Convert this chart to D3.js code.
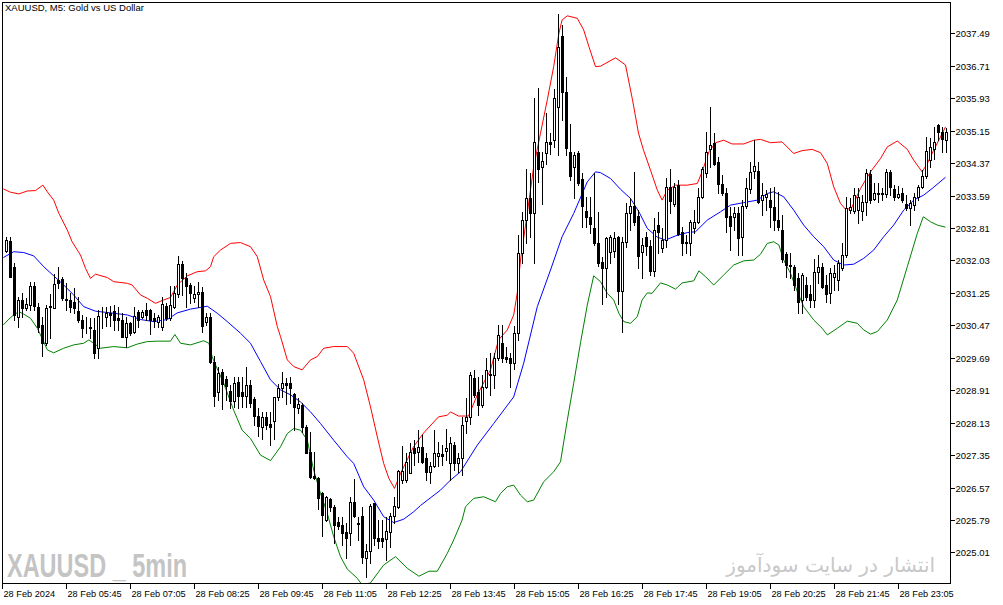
<!DOCTYPE html>
<html><head><meta charset="utf-8">
<script src="https://cdn.jsdelivr.net/npm/d3@7/dist/d3.min.js"></script>
<style>
html,body{margin:0;padding:0;background:#fff;}
svg{display:block;}
</style></head>
<body>
<svg id="chart" width="1003" height="605"></svg>
<script>
const opens = [2032.26,2032.50,2031.88,2030.68,2031.08,2030.89,2030.96,2031.42,2030.90,2030.48,2030.04,2030.91,2030.89,2031.56,2031.58,2031.10,2031.09,2031.02,2030.82,2030.61,2030.44,2030.43,2030.37,2029.92,2030.68,2030.66,2030.77,2030.82,2030.65,2030.60,2030.20,2030.52,2030.32,2030.80,2030.66,2030.84,2030.84,2030.65,2030.56,2030.44,2030.93,2030.65,2030.90,2031.22,2031.94,2031.61,2031.44,2031.13,2031.22,2031.26,2030.56,2030.66,2029.60,2028.87,2029.36,2029.18,2028.89,2028.66,2029.10,2028.86,2028.78,2029.04,2028.70,2028.30,2028.03,2028.26,2028.10,2028.16,2028.74,2028.96,2029.08,2029.08,2028.82,2028.48,2028.56,2028.03,2027.43,2026.85,2026.79,2026.43,2025.79,2026.29,2026.10,2025.75,2025.67,2025.51,2025.47,2026.22,2025.73,2025.89,2024.88,2025.04,2026.19,2025.37,2025.37,2025.33,2025.51,2025.89,2026.11,2026.75,2026.75,2026.93,2027.51,2027.43,2027.55,2027.27,2026.95,2027.09,2027.33,2027.38,2027.45,2027.17,2027.59,2027.15,2027.27,2028.18,2028.27,2029.20,2028.87,2028.55,2028.99,2029.30,2029.28,2029.68,2030.05,2029.70,2029.68,2029.57,2030.28,2032.20,2033.00,2033.52,2033.16,2034.64,2034.27,2034.62,2034.87,2034.92,2035.73,2037.42,2036.09,2034.63,2034.27,2034.62,2033.99,2033.23,2033.08,2032.82,2032.44,2032.00,2031.84,2032.24,2032.26,2032.60,2031.30,2032.48,2033.18,2033.35,2033.10,2032.24,2032.59,2032.38,2031.78,2032.88,2032.32,2032.52,2033.79,2033.39,2033.84,2032.71,2032.48,2032.44,2032.80,2032.96,2033.56,2034.14,2034.72,2034.86,2034.40,2033.87,2033.64,2033.10,2033.07,2033.16,2032.59,2033.34,2033.74,2034.19,2034.19,2033.48,2033.55,2033.48,2033.32,2033.00,2032.76,2032.18,2031.92,2031.88,2031.60,2031.08,2031.44,2031.22,2031.09,2031.76,2031.88,2031.44,2031.24,2031.64,2031.56,2031.84,2032.16,2033.24,2033.22,2033.24,2033.22,2033.44,2034.11,2033.51,2033.62,2033.64,2033.62,2034.16,2033.74,2033.56,2033.64,2033.39,2033.28,2033.36,2033.56,2033.80,2034.06,2034.44,2034.72,2035.28,2035.12,2034.92];
const highs = [2032.60,2032.60,2031.97,2031.16,2031.25,2031.13,2031.52,2031.50,2031.01,2030.68,2030.96,2031.22,2031.70,2031.88,2031.64,2031.48,2031.24,2031.37,2031.16,2030.72,2030.68,2030.64,2030.64,2030.84,2030.92,2030.90,2030.94,2030.96,2030.92,2030.76,2030.68,2030.56,2030.90,2030.84,2030.85,2031.00,2030.86,2030.76,2030.72,2031.16,2031.00,2031.42,2031.42,2032.14,2032.02,2031.72,2031.48,2031.42,2031.52,2031.40,2030.76,2030.76,2029.73,2029.46,2029.41,2029.26,2029.04,2029.23,2029.23,2029.23,2029.46,2029.16,2028.75,2028.48,2028.39,2028.39,2028.39,2028.75,2029.06,2029.34,2029.20,2029.23,2028.84,2028.72,2028.60,2028.07,2027.91,2027.43,2026.83,2026.47,2026.37,2026.31,2026.15,2025.87,2025.87,2025.71,2026.35,2026.77,2025.87,2026.11,2025.21,2026.17,2026.21,2025.79,2025.79,2025.87,2025.97,2026.34,2026.99,2027.57,2027.39,2027.63,2027.71,2027.95,2027.83,2027.39,2027.19,2027.95,2027.67,2027.59,2027.99,2027.79,2027.67,2027.39,2028.27,2028.72,2029.36,2029.40,2029.23,2029.28,2029.68,2029.80,2029.80,2030.48,2030.48,2029.96,2029.80,2030.45,2032.64,2033.20,2034.24,2034.12,2035.93,2036.17,2034.64,2035.57,2035.09,2036.14,2037.95,2037.69,2036.43,2035.31,2034.64,2034.67,2034.12,2033.56,2033.56,2034.12,2033.20,2032.12,2032.60,2032.64,2032.72,2032.62,2032.60,2033.40,2033.52,2034.16,2033.24,2032.56,2032.72,2032.52,2033.04,2033.20,2032.80,2034.00,2034.23,2033.88,2033.96,2032.84,2032.64,2033.00,2033.24,2033.76,2034.28,2035.12,2035.73,2035.09,2034.52,2034.08,2033.76,2033.31,2033.32,2033.31,2033.48,2034.00,2034.40,2034.92,2034.40,2033.90,2033.72,2033.76,2033.79,2033.68,2033.12,2032.24,2032.20,2031.92,2031.72,2031.73,2031.64,2031.44,2032.06,2032.16,2031.96,2031.68,2031.84,2031.92,2032.04,2032.44,2033.56,2033.54,2033.76,2033.76,2033.60,2034.24,2034.20,2033.88,2033.90,2033.76,2034.24,2034.20,2033.84,2033.82,2033.76,2033.60,2033.48,2033.64,2033.84,2034.20,2034.99,2034.97,2035.24,2035.30,2035.24,2035.21];
const lows = [2032.23,2031.63,2030.60,2030.44,2030.68,2030.84,2030.84,2030.84,2030.32,2029.73,2030.00,2030.17,2030.88,2031.36,2031.08,2030.84,2030.80,2030.77,2030.56,2030.18,2030.29,2030.17,2029.68,2029.68,2030.40,2030.45,2030.45,2030.36,2030.37,2030.18,2029.96,2030.24,2030.29,2030.44,2030.64,2030.61,2030.26,2030.44,2030.44,2030.36,2030.61,2030.60,2030.88,2031.16,2031.20,2030.90,2031.00,2031.04,2030.90,2030.32,2030.48,2029.56,2028.54,2028.67,2028.46,2028.67,2028.48,2028.51,2028.48,2028.51,2028.51,2028.51,2028.07,2027.81,2027.75,2027.97,2027.59,2027.75,2028.67,2028.75,2028.57,2028.60,2027.95,2028.36,2027.91,2027.39,2026.79,2026.77,2026.05,2025.41,2025.77,2026.01,2025.23,2025.57,2025.19,2024.87,2025.19,2025.87,2025.31,2024.75,2024.43,2024.76,2025.19,2025.11,2025.15,2024.83,2025.15,2025.71,2026.09,2026.67,2026.71,2026.91,2027.11,2027.19,2027.15,2026.75,2026.67,2027.07,2027.09,2027.11,2027.23,2026.75,2026.99,2026.95,2026.87,2027.89,2028.11,2028.75,2028.31,2028.51,2028.96,2028.80,2028.96,2029.64,2029.60,2029.60,2028.99,2029.41,2030.12,2031.96,2032.44,2032.60,2031.97,2033.92,2033.38,2034.36,2034.59,2034.76,2034.56,2035.40,2034.56,2033.96,2033.52,2033.84,2032.84,2032.84,2032.68,2032.40,2031.90,2030.99,2031.16,2031.96,2032.12,2030.99,2030.32,2032.36,2032.76,2032.88,2031.84,2031.60,2032.16,2031.68,2031.66,2032.20,2032.24,2032.36,2033.16,2033.34,2032.64,2032.16,2032.20,2032.16,2032.68,2032.92,2033.52,2034.04,2034.28,2034.32,2033.64,2033.60,2032.72,2032.28,2032.76,2032.16,2032.16,2033.28,2033.66,2034.00,2033.40,2033.12,2033.24,2032.84,2032.76,2032.76,2032.00,2031.64,2031.60,2031.32,2030.76,2030.76,2031.08,2030.92,2030.92,2031.48,2031.36,2031.02,2031.00,2031.32,2031.32,2031.80,2032.12,2033.16,2033.16,2032.94,2033.00,2033.12,2033.40,2033.48,2033.44,2033.48,2033.56,2033.60,2033.48,2033.52,2033.44,2033.24,2032.88,2033.24,2033.48,2033.76,2034.00,2034.28,2034.48,2034.92,2034.64,2034.64];
const closes = [2032.52,2031.64,2030.72,2031.08,2030.89,2030.98,2031.42,2030.93,2030.44,2030.04,2030.89,2030.93,2031.46,2031.48,2031.13,2031.09,2030.92,2030.88,2030.60,2030.40,2030.42,2030.41,2029.81,2030.69,2030.66,2030.76,2030.72,2030.61,2030.61,2030.20,2030.53,2030.29,2030.70,2030.60,2030.80,2030.72,2030.60,2030.58,2030.66,2030.98,2030.64,2030.96,2031.24,2031.94,2031.60,2031.42,2031.25,2031.22,2031.26,2030.46,2030.66,2029.60,2028.78,2029.32,2029.06,2029.02,2028.66,2029.08,2028.77,2028.77,2029.04,2028.61,2028.30,2028.05,2028.26,2028.07,2028.03,2028.74,2028.96,2029.08,2029.04,2028.96,2028.50,2028.57,2028.03,2027.41,2026.83,2026.79,2026.33,2025.91,2026.35,2026.10,2025.67,2025.65,2025.48,2025.35,2026.22,2025.89,2025.69,2024.91,2025.04,2026.13,2025.35,2025.29,2025.29,2025.53,2025.89,2026.13,2026.97,2026.97,2027.19,2027.43,2027.39,2027.55,2027.19,2026.95,2027.09,2027.39,2027.39,2027.34,2027.51,2027.63,2027.15,2027.27,2028.07,2028.27,2029.28,2028.80,2028.55,2028.99,2029.40,2029.28,2029.68,2030.24,2029.68,2029.65,2029.57,2030.28,2032.20,2033.00,2033.52,2033.16,2034.87,2034.24,2034.42,2034.87,2034.82,2035.93,2037.17,2036.09,2034.73,2034.07,2034.56,2033.88,2033.35,2033.07,2032.90,2032.44,2031.96,2031.86,2032.56,2032.59,2032.58,2031.30,2032.47,2033.18,2033.35,2032.96,2032.14,2032.40,2032.38,2031.78,2032.76,2032.71,2032.52,2033.79,2033.47,2033.80,2032.66,2032.46,2032.44,2032.95,2032.96,2033.56,2034.24,2034.64,2034.80,2034.36,2033.87,2033.64,2033.08,2032.86,2033.16,2032.56,2033.34,2033.76,2034.16,2034.30,2033.44,2033.60,2033.62,2033.31,2033.00,2032.84,2032.06,2031.92,2031.90,2031.44,2031.04,2031.68,2031.14,2031.09,2031.76,2031.88,2031.40,2031.22,2031.72,2031.73,2031.96,2032.16,2033.28,2033.32,2033.60,2033.56,2033.44,2034.14,2033.48,2033.66,2033.64,2033.62,2034.16,2033.79,2033.56,2033.63,2033.48,2033.28,2033.40,2033.56,2033.80,2034.06,2034.67,2034.76,2034.88,2035.12,2034.96,2035.12];

// Bollinger bands: [bar index, price]
const upperBand = [[-0.8,2033.75],[1,2033.67],[3.1,2033.63],[5.2,2033.70],[7.25,2033.71],[9.1,2033.84],[10.2,2033.68],[11.8,2033.48],[13.1,2033.16],[15.2,2032.76],[16.4,2032.48],[18.5,2032.16],[19.75,2031.84],[21,2031.60],[22.25,2031.70],[25.2,2031.62],[26.8,2031.52],[30.2,2031.48],[31.4,2031.44],[33.5,2031.20],[35.2,2031.12],[37.25,2031.00],[39.3,2031.08],[41,2031.14],[42.7,2031.44],[45.2,2031.66],[47.7,2031.76],[49.75,2031.78],[51,2031.88],[51.8,2032.12],[53.5,2032.28],[56,2032.44],[58.5,2032.46],[61,2032.36],[62.7,2032.12],[64.3,2031.56],[66,2031.16],[67.7,2030.44],[68.5,2030.20],[70.2,2029.64],[71.8,2029.48],[73.9,2029.40],[76,2029.64],[77.7,2029.72],[79.3,2029.92],[81.8,2029.96],[85.2,2029.96],[86.8,2029.80],[89.3,2029.16],[91,2028.51],[92.7,2027.79],[94.3,2027.15],[95.6,2026.79],[97,2026.55],[98.5,2026.91],[101.75,2027.55],[104.25,2027.88],[108,2028.27],[110.2,2028.31],[111,2028.39],[113,2028.29],[115.5,2028.29],[117.7,2028.80],[121,2029.40],[123,2030.12],[125.2,2030.36],[126.8,2030.72],[127.7,2031.25],[128.5,2032.04],[130.2,2033.17],[131.8,2034.28],[133.5,2035.09],[135.2,2035.89],[136.8,2036.69],[138.1,2037.49],[138.9,2037.81],[140.2,2037.91],[142.7,2037.85],[144.3,2037.57],[145.6,2037.17],[147.25,2036.69],[148.5,2036.70],[152.25,2036.90],[154.75,2036.73],[156.5,2035.89],[158,2035.09],[159.25,2034.68],[161,2034.20],[162.7,2033.72],[163.9,2033.48],[165.2,2033.72],[167.25,2033.84],[170.2,2033.84],[172.7,2033.88],[173.9,2034.16],[175.6,2034.64],[177.25,2034.86],[179.3,2034.92],[181.4,2034.83],[184.3,2034.83],[186.8,2034.92],[188.5,2034.94],[191,2034.86],[193.9,2034.88],[196.8,2034.60],[198.9,2034.67],[201.4,2034.70],[203.5,2034.62],[205.2,2034.36],[206.8,2033.80],[208.5,2033.40],[209.75,2033.26],[211.2,2033.28],[213.5,2033.76],[216,2034.16],[218.5,2034.48],[220.2,2034.76],[222.7,2034.90],[225.2,2034.70],[226.8,2034.44],[228.9,2034.16],[230.2,2034.36],[231.8,2034.68],[233.5,2035.00],[234.75,2035.24]];
const middleBand = [[-0.8,2032.10],[1.8,2032.24],[4.3,2032.22],[6.8,2032.14],[9.3,2031.88],[11.8,2031.66],[14.3,2031.44],[16.8,2031.20],[19.3,2030.92],[22.25,2030.81],[26,2030.77],[30.2,2030.72],[33.5,2030.61],[36.8,2030.56],[40.2,2030.61],[42.7,2030.77],[46,2030.86],[50.2,2030.93],[52.7,2030.76],[55.2,2030.56],[58.5,2030.28],[61,2030.04],[63.5,2029.60],[66,2029.16],[68.5,2028.92],[71,2028.80],[73.5,2028.63],[76,2028.39],[78.5,2028.11],[81.8,2027.71],[85.2,2027.31],[86.8,2027.15],[89.3,2026.59],[91.8,2026.27],[94.3,2025.87],[96.8,2025.73],[99.3,2025.81],[101.8,2025.99],[103.5,2026.14],[108.5,2026.51],[111,2026.75],[113.5,2026.95],[117.7,2027.59],[121.8,2028.11],[126.8,2028.75],[129.3,2029.56],[132.7,2030.92],[136,2031.80],[138.9,2032.60],[141.8,2033.16],[145.2,2033.92],[147.25,2034.16],[148.5,2034.14],[151,2034.00],[153.5,2033.74],[156,2033.52],[158.1,2033.20],[160.2,2032.80],[162.7,2032.59],[164.75,2032.52],[167.25,2032.62],[170.2,2032.70],[172.25,2032.72],[175.2,2033.00],[178.5,2033.20],[181,2033.36],[184.3,2033.42],[187.7,2033.48],[190.2,2033.64],[191.8,2033.68],[194.3,2033.56],[196.8,2033.24],[199.3,2032.88],[201.8,2032.60],[204.3,2032.36],[206.8,2032.04],[209.3,2031.92],[211.8,2031.94],[214.3,2032.08],[216.8,2032.28],[219.3,2032.60],[221.8,2032.88],[224.3,2033.24],[226.8,2033.48],[229.3,2033.60],[231.8,2033.79],[234.75,2034.03]];
const lowerBand = [[-0.8,2030.48],[0.6,2030.62],[1.8,2030.72],[3.1,2030.80],[4.3,2030.74],[6,2030.64],[7.7,2030.40],[8.9,2030.16],[10.2,2029.88],[11.8,2029.81],[14.3,2029.92],[16.8,2030.00],[19.3,2030.04],[20.6,2030.12],[21.8,2030.04],[23.5,2029.92],[26.8,2029.96],[30.2,2029.93],[32.7,2030.02],[35.2,2030.08],[37.7,2030.09],[41,2030.09],[42.1,2030.25],[43.5,2030.04],[46,2030.00],[49.3,2030.10],[50.6,2030.04],[51.4,2029.72],[52.25,2029.52],[54.3,2029.08],[56.8,2028.43],[58.9,2027.95],[61,2027.75],[63.5,2027.35],[66,2027.22],[68.5,2027.55],[70.2,2027.87],[71.8,2027.99],[73.5,2027.95],[75.2,2027.71],[76.8,2026.99],[78.5,2026.43],[80.2,2025.95],[81.8,2025.39],[83.5,2024.91],[85.2,2024.61],[87.7,2024.39],[88.9,2024.23],[91,2024.28],[94.3,2024.71],[97.25,2024.91],[100.2,2024.63],[103.1,2024.44],[105.6,2024.56],[107.7,2024.56],[110.2,2024.99],[111.8,2025.31],[113.9,2025.79],[114.75,2026.11],[116.8,2026.31],[119.3,2026.35],[122.25,2026.23],[123.5,2026.43],[125.2,2026.59],[126.8,2026.63],[128.5,2026.39],[130.2,2026.23],[131.8,2026.27],[134.3,2026.71],[136.8,2026.95],[138.5,2027.19],[140.2,2028.19],[141.8,2029.08],[143.5,2030.05],[145.2,2030.96],[146.8,2031.66],[148.5,2031.52],[150.2,2031.24],[151.8,2031.08],[153.1,2030.76],[154.3,2030.56],[156,2030.52],[157.7,2030.68],[158.9,2031.08],[160.2,2031.25],[161.4,2031.24],[163.5,2031.49],[165.2,2031.44],[167.25,2031.34],[168.9,2031.49],[171.8,2031.54],[173.1,2031.78],[174.75,2031.64],[176.8,2031.44],[179.3,2031.68],[181.8,2031.92],[184.3,2032.02],[186.8,2032.04],[188.5,2032.18],[190.2,2032.44],[191.8,2032.48],[193.1,2032.40],[194.3,2032.04],[196,2031.72],[197.7,2031.28],[199.3,2030.92],[201.8,2030.60],[203.9,2030.40],[205.2,2030.24],[207.7,2030.40],[210.2,2030.57],[212.7,2030.52],[214.3,2030.36],[216,2030.26],[217.7,2030.32],[220.2,2030.60],[222.7,2031.08],[225.2,2031.88],[227.7,2032.68],[229.2,2033.08],[231,2032.96],[232.7,2032.88],[234.75,2032.83]];

const yTickValues = [2037.49,2036.71,2035.93,2035.15,2034.37,2033.59,2032.81,2032.03,2031.25,2030.47,2029.69,2028.91,2028.13,2027.35,2026.57,2025.79,2025.01];
const yTickLabels = ["2037.49","2036.71","2035.93","2035.15","2034.37","2033.59","2032.81","2032.03","2031.25","2030.47","2029.69","2028.91","2028.13","2027.35","2026.57","2025.79","2025.01"];
const xTickIndex = [-1,15,31,47,63,79,95,111,127,143,159,175,191,207,223];
const xTickLabels = ["28 Feb 2024","28 Feb 05:45","28 Feb 07:05","28 Feb 08:25","28 Feb 09:45","28 Feb 11:05","28 Feb 12:25","28 Feb 13:45","28 Feb 15:05","28 Feb 16:25","28 Feb 17:45","28 Feb 19:05","28 Feb 20:25","28 Feb 21:45","28 Feb 23:05"];

const titleText = "XAUUSD, M5:  Gold vs US Dollar";
const watermarkLeft = "XAUUSD _ 5min";
const watermarkRight = "انتشار در سایت سودآموز";

const svg = d3.select("#chart");
const L = 2.5, R = 950.5, T = 2.5, B = 583.5;

const x = d3.scaleLinear().domain([0, 235]).range([6, 946]);
const y = d3.scaleLinear().domain([2024.26, 2038.235]).range([583.7, 2.3]);
const px = v => Math.round(x(v)) + 0.5;

svg.append("defs").append("clipPath").attr("id","plot")
  .append("rect").attr("x", L).attr("y", T).attr("width", R - L).attr("height", B - T);

// watermarks
svg.append("text").attr("x", 7).attr("y", 577)
  .attr("font-family", "Liberation Sans, Arial, sans-serif").attr("font-weight", "bold")
  .attr("font-size", 33).attr("fill", "#c4c4c4")
  .attr("textLength", 180).attr("lengthAdjust", "spacingAndGlyphs")
  .text(watermarkLeft);
svg.append("text").attr("x", 935).attr("y", 572)
  .attr("font-family", "DejaVu Sans, Noto Sans, sans-serif").attr("font-size", 20)
  .attr("fill", "#c8c8c8").attr("text-anchor", "end")
  .text(watermarkRight);

const plot = svg.append("g").attr("clip-path", "url(#plot)");

// bands
const line = d3.line().x(d => x(d[0]) + 0.5).y(d => y(d[1]));
[[upperBand, "#ff0000"], [middleBand, "#0000ff"], [lowerBand, "#008000"]].forEach(([data, col]) => {
  plot.append("path").datum(data).attr("d", line)
    .attr("fill", "none").attr("stroke", col).attr("stroke-width", 1);
});

// candles
const idx = d3.range(opens.length);
const cg = plot.append("g").attr("shape-rendering", "crispEdges");
cg.selectAll("line.wick").data(idx).join("line")
  .attr("x1", i => px(i)).attr("x2", i => px(i))
  .attr("y1", i => Math.round(y(highs[i]))).attr("y2", i => Math.round(y(lows[i])) + 1)
  .attr("stroke", "#000").attr("stroke-width", 1);
cg.selectAll("rect.body").data(idx).join("rect")
  .attr("x", i => px(i) - 1)
  .attr("y", i => Math.round(y(Math.max(opens[i], closes[i]))) + 0.5)
  .attr("width", 2)
  .attr("height", i => Math.max(0, Math.round(y(Math.min(opens[i], closes[i]))) - Math.round(y(Math.max(opens[i], closes[i])))))
  .attr("fill", i => closes[i] >= opens[i] ? "#fff" : "#000")
  .attr("stroke", "#000").attr("stroke-width", 1);

// frame
svg.append("rect").attr("x", L).attr("y", T).attr("width", R - L).attr("height", B - T)
  .attr("fill", "none").attr("stroke", "#000").attr("stroke-width", 1).attr("shape-rendering", "crispEdges");

// right axis
const ya = svg.append("g");
yTickValues.forEach((v, k) => {
  const yy = Math.round(y(v)) + 0.5;
  ya.append("line").attr("x1", R).attr("x2", R + 4).attr("y1", yy).attr("y2", yy)
    .attr("stroke", "#000").attr("shape-rendering", "crispEdges");
  ya.append("text").attr("x", R + 5).attr("y", yy).attr("dy", "0.35em")
    .attr("font-family", "Liberation Sans, Arial, sans-serif").attr("font-size", 9.5)
    .attr("fill", "#000").text(yTickLabels[k]);
});

// bottom axis
const xa = svg.append("g");
xTickIndex.forEach((v, k) => {
  const xx = Math.round(x(v)) + 0.5;
  xa.append("line").attr("x1", xx).attr("x2", xx).attr("y1", B).attr("y2", B + 5)
    .attr("stroke", "#000").attr("shape-rendering", "crispEdges");
  xa.append("text").attr("x", xx + 1).attr("y", 597)
    .attr("font-family", "Liberation Sans, Arial, sans-serif").attr("font-size", 9.2)
    .attr("fill", "#000").text(xTickLabels[k]);
});

// title
svg.append("text").attr("x", 5).attr("y", 11)
  .attr("font-family", "Liberation Sans, Arial, sans-serif").attr("font-size", 9.5)
  .attr("fill", "#000").text(titleText);
</script>
</body></html>
